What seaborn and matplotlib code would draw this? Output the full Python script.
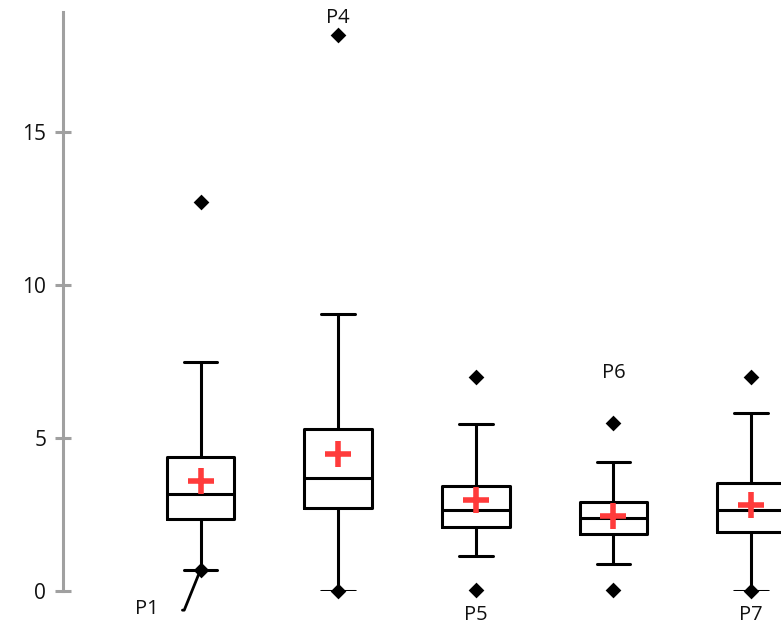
import pandas as pd
import matplotlib.pyplot as plt
import seaborn as sns

# Valores (5 series)
grupos = ['S1', 'S2', 'S3', 'S4', 'S5']
bigote_inf = [0.70, 0.00, 1.13, 0.87, 0.00]
q1 = [2.35, 2.72, 2.09, 1.85, 1.93]
mediana = [3.16, 3.70, 2.64, 2.38, 2.64]
q3 = [4.39, 5.28, 3.43, 2.90, 3.52]
bigote_sup = [7.47, 9.05, 5.45, 4.21, 5.81]
medias = [3.59, 4.48, 2.97, 2.45, 2.81]
minimos = [0.70, 0.00, 0.04, 0.04, 0.00]
maximos = [12.71, 18.17, 6.98, 5.49, 6.98]
etiquetas = ['P1', 'P4', 'P5', 'P6', 'P7']
etiqueta_en = ['min', 'max', 'min', 'max', 'min']

sns.set_style('white')
plt.rcParams['font.family'] = ['Open Sans', 'DejaVu Sans']

# Caja armada desde los 5 numeros (percentiles 0/25/50/75/100)
cajas = pd.DataFrame({
    'grupo': [g for g in grupos for _ in range(5)],
    'valor': [v for fila in zip(bigote_inf, q1, mediana, q3, bigote_sup) for v in fila],
})
extremos = pd.DataFrame({'grupo': grupos * 2, 'valor': minimos + maximos})
df_medias = pd.DataFrame({'grupo': grupos, 'valor': medias})

fig = plt.figure(figsize=(7.81, 6.24), dpi=100)
ax = fig.add_axes([63 / 781, 33 / 624, (781 - 63) / 781, (591 - 12) / 624])

sns.boxplot(data=cajas, x='grupo', y='valor', order=grupos, whis=(0, 100),
            fill=False, color='black', linewidth=2.2, width=0.49, ax=ax)
sns.stripplot(data=extremos, x='grupo', y='valor', order=grupos, jitter=False,
              marker='D', size=8, color='black', linewidth=0, ax=ax, zorder=5,
              clip_on=False)
sns.stripplot(data=df_medias, x='grupo', y='valor', order=grupos, jitter=False,
              marker='+', size=19, color='#ff3b3b', linewidth=4, ax=ax, zorder=6)

# Etiquetas de puntos
offsets = {'P4': (0, 12), 'P5': (0, -18), 'P6': (0, 36), 'P7': (0, -17.5)}
for i, (et, cual) in enumerate(zip(etiquetas, etiqueta_en)):
    y = minimos[i] if cual == 'min' else maximos[i]
    if et == 'P1':
        ax.annotate(et, xy=(i, y), xytext=(-39, -28.5), textcoords='offset points',
                    ha='center', va='center', fontsize=14.5, color='#111111',
                    annotation_clip=False,
                    arrowprops=dict(arrowstyle='-', color='black', lw=2,
                                    shrinkA=15, shrinkB=0, relpos=(1, 0.45),
                                    connectionstyle='angle,angleA=0,angleB=68,rad=0'))
    else:
        ax.annotate(et, xy=(i, y), xytext=offsets[et], textcoords='offset points',
                    ha='center', va='center', fontsize=14.5, color='#111111',
                    annotation_clip=False)

ax.set_xlim(-1, 4 + 30 / 137.75)
ax.set_ylim(0, 18.92)
ax.set_yticks([0, 5, 10, 15])
ax.set_xticks([])
ax.set_xlabel('')
ax.set_ylabel('')
for s in ['top', 'right', 'bottom']:
    ax.spines[s].set_visible(False)
ax.spines['left'].set_color('#a0a0a0')
ax.spines['left'].set_linewidth(2.2)
ax.tick_params(axis='y', direction='inout', length=12, width=2.2, color='#a0a0a0',
               labelsize=15, labelcolor='#111111', pad=6, left=True)

fig.savefig('out.png', dpi=100)
